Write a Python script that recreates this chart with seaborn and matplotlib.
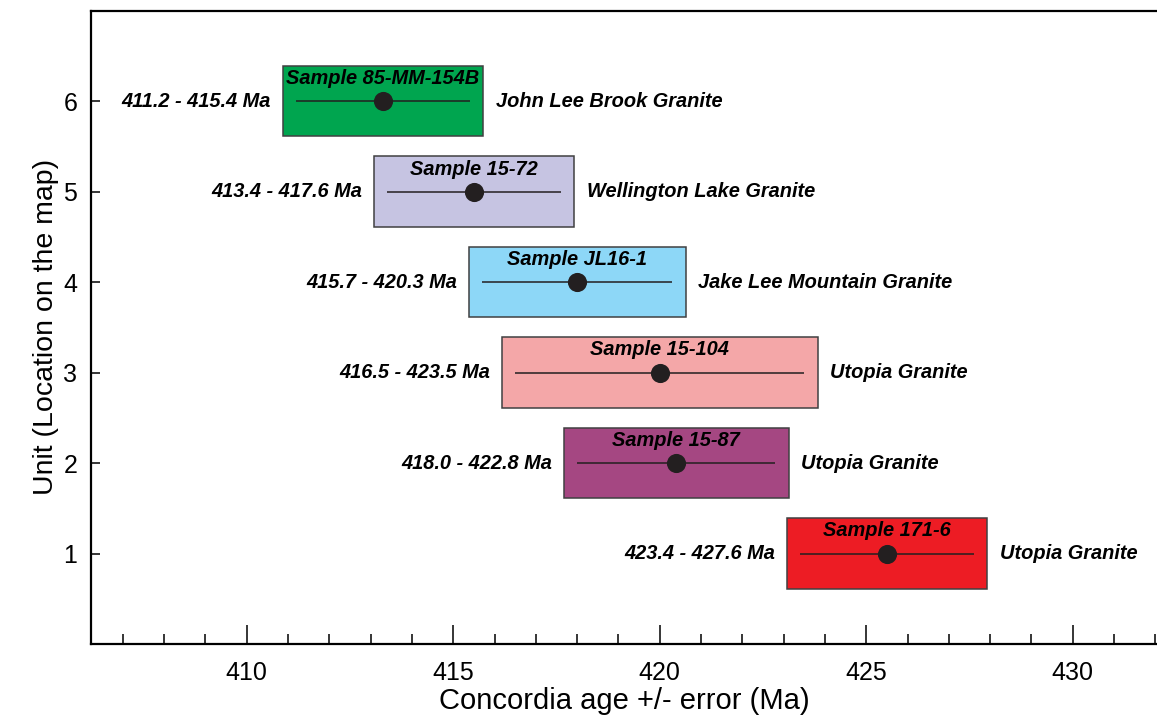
import matplotlib
matplotlib.use("Agg")
import matplotlib.pyplot as plt
from matplotlib.ticker import MultipleLocator
import pandas as pd
import seaborn as sns

# U-Pb concordia ages of the dated granite samples
units = [6, 5, 4, 3, 2, 1]
samples = ["Sample 85-MM-154B", "Sample 15-72", "Sample JL16-1",
           "Sample 15-104", "Sample 15-87", "Sample 171-6"]
granites = ["John Lee Brook Granite", "Wellington Lake Granite",
            "Jake Lee Mountain Granite", "Utopia Granite",
            "Utopia Granite", "Utopia Granite"]
age_low = [411.2, 413.4, 415.7, 416.5, 418.0, 423.4]
age_high = [415.4, 417.6, 420.3, 423.5, 422.8, 427.6]
box_colors = ["#00A54F", "#C6C4E2", "#8DD7F7", "#F4A7A8", "#A54782", "#ED1C24"]

df = pd.DataFrame({
    "unit": units,
    "sample": samples,
    "granite": granites,
    "low": age_low,
    "high": age_high,
})
df["age"] = (df["low"] + df["high"]) / 2

sns.set_theme(style="ticks")
plt.rcParams["font.family"] = ["Liberation Sans", "DejaVu Sans"]
plt.rcParams["text.color"] = "black"
plt.rcParams["axes.labelcolor"] = "black"
plt.rcParams["xtick.color"] = "black"
plt.rcParams["ytick.color"] = "black"

fig = plt.figure(figsize=(11.57, 7.21), dpi=100)
ax = fig.add_axes([0.0787, 0.1068, 0.9213, 0.8784])

ink = "#231F20"
pad = 0.33         # box margin around the error interval (Ma)
half_h = 0.39      # half height of each box (unit)

# boxes around each error interval
ax.barh(df["unit"], (df["high"] - df["low"]) + 2 * pad, left=df["low"] - pad,
        height=2 * half_h, color=box_colors, edgecolor="#404041",
        linewidth=1.1, zorder=1)

# error bars
ax.hlines(df["unit"], df["low"], df["high"], color=ink, linewidth=1.1, zorder=2)

# concordia ages
sns.scatterplot(data=df, x="age", y="unit", s=190, color=ink,
                edgecolor=ink, linewidth=0, zorder=3, ax=ax, legend=False)

lab = dict(fontsize=14.4, fontweight="bold", fontstyle="italic", color="black")
for _, r in df.iterrows():
    ax.text(r["low"] - pad - 0.28, r["unit"],
            f"{r['low']:.1f} - {r['high']:.1f} Ma",
            ha="right", va="center", **lab)
    ax.text(r["high"] + pad + 0.3, r["unit"], r["granite"],
            ha="left", va="center", **lab)
    ax.text((r["low"] + r["high"]) / 2, r["unit"] + 0.25, r["sample"],
            ha="center", va="center", **lab)

ax.set_xlim(406.23, 432.04)
ax.set_ylim(0, 7)
ax.set_yticks([1, 2, 3, 4, 5, 6])
ax.xaxis.set_major_locator(MultipleLocator(5))
ax.xaxis.set_minor_locator(MultipleLocator(1))

ax.tick_params(axis="x", which="major", direction="in", length=13.7,
               width=1.1, labelsize=18, pad=12)
ax.tick_params(axis="x", which="minor", direction="in", length=7.2, width=1.1)
ax.tick_params(axis="y", which="major", direction="in", length=6.5,
               width=1.1, labelsize=18, pad=10)
ax.tick_params(top=False, right=False, which="both")

for side in ["left", "bottom", "top"]:
    ax.spines[side].set_linewidth(1.6)
    ax.spines[side].set_color("black")
ax.spines["right"].set_visible(False)

ax.set_xlabel("Concordia age +/- error (Ma)", fontsize=21, labelpad=2)
ax.set_ylabel("Unit (Location on the map)", fontsize=20.5, labelpad=3)

fig.savefig("out.png", dpi=100)
